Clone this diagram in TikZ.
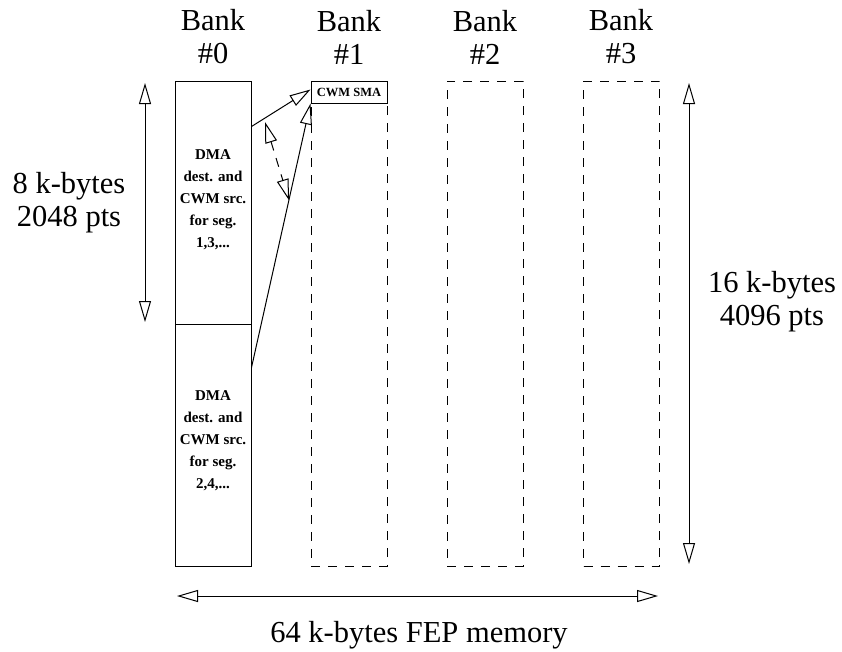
\documentclass[tikz,border=0pt]{standalone}
\usepackage{fontspec}
\setmainfont{Liberation Serif}
\usetikzlibrary{arrows.meta,calc}
\begin{document}
\begin{tikzpicture}[x=1pt,y=-1pt,line width=1pt,
  >={Triangle[open,length=21pt,width=12pt]},
  bigtxt/.style={font=\fontsize{30.5}{33}\selectfont,align=center,inner sep=0pt},
  boldtxt/.style={font=\fontsize{15}{22}\selectfont\bfseries,align=center,inner sep=0pt},
  bankbox/.style={draw,minimum width=76pt,inner sep=0pt},
  dashbox/.style={bankbox,dash pattern=on 9pt off 8pt},
  dasharrow/.style={dash pattern=on 9pt off 8pt}]
\useasboundingbox (0,0) rectangle (842,651);
% bank labels
\node[bigtxt] (l0) at (213,37) {Bank\\\#0};
\node[bigtxt] (l1) at (349,37) {Bank\\\#1};
\node[bigtxt] (l2) at (485,37) {Bank\\\#2};
\node[bigtxt] (l3) at (621,37) {Bank\\\#3};
% bank 0
\node[bankbox,minimum height=243pt] (seg1) at (213,202.5) {};
\node[bankbox,minimum height=242pt] (seg2) at (213,445) {};
\node[boldtxt] (t1) at (213,200) {DMA\\dest. and\\CWM src.\\for seg.\\1,3,...};
\node[boldtxt] (t2) at (213,441) {DMA\\dest. and\\CWM src.\\for seg.\\2,4,...};
% other banks
\node[dashbox,minimum height=485pt] (b1) at (349,323.5) {};
\node[dashbox,minimum height=485pt] (b2) at (485,323.5) {};
\node[dashbox,minimum height=485pt] (b3) at (621.5,323.5) {};
\node[draw,fill=white,minimum width=76pt,minimum height=22pt,inner sep=0pt,
      font=\fontsize{12.5}{14}\selectfont\bfseries] (cwm) at (349,92) {CWM SMA};
% inner arrows
\coordinate (a1s) at ($(seg1.north east)+(0,46)$);
\coordinate (a1e) at ($(cwm.north west)+(0,9)$);
\coordinate (a2s) at ($(seg2.north east)+(0,44)$);
\draw[->] (a1s) -- (a1e);
\draw[->] (a2s) -- (cwm.south west);
\coordinate (dtop) at (265,122);
\coordinate (dbot) at ($(a2s)!0.634!(cwm.south west)$);
\draw[<->,dasharrow] (dtop) -- (dbot);
% dimension arrows
\coordinate (lt) at (145,83);
\coordinate (lb) at (145,322);
\draw[<->] (lt) -- (lb);
\node[bigtxt] (lk) at (69,203) {8 k-bytes\\2048 pts};
\coordinate (rt) at (689,83);
\coordinate (rb) at (689,564);
\draw[<->] (rt) -- (rb);
\node[bigtxt] (rk) at (772,302) {16 k-bytes\\4096 pts};
\coordinate (bl) at (177,596);
\coordinate (br) at (658,596);
\draw[<->] (bl) -- (br);
\node[bigtxt,anchor=base] (bk) at (419,642) {64 k-bytes FEP memory};
\end{tikzpicture}
\end{document}
